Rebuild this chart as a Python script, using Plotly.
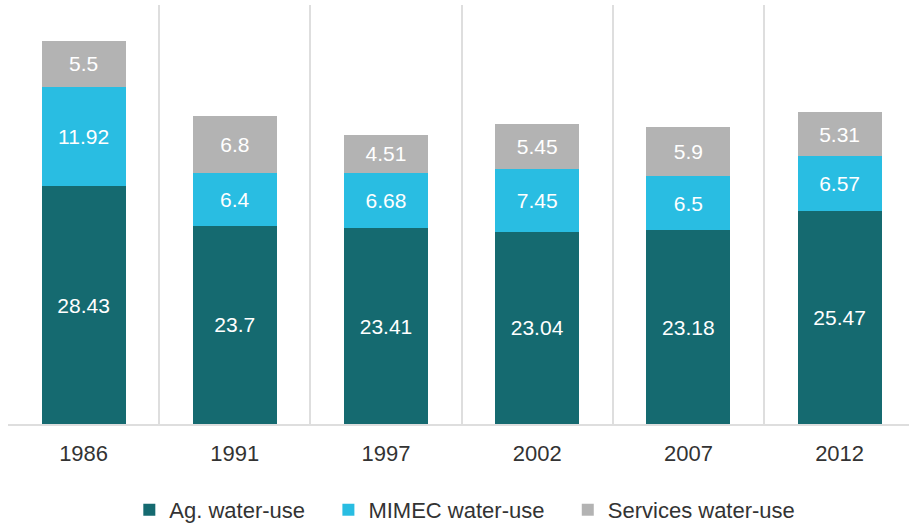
import plotly.graph_objects as go

years = ["1986", "1991", "1997", "2002", "2007", "2012"]
ag_use = [28.43, 23.7, 23.41, 23.04, 23.18, 25.47]
mimec_use = [11.92, 6.4, 6.68, 7.45, 6.5, 6.57]
services_use = [5.5, 6.8, 4.51, 5.45, 5.9, 5.31]

series = [
    ("Ag. water-use", ag_use, "#156a70"),
    ("MIMEC water-use", mimec_use, "#29bde2"),
    ("Services water-use", services_use, "#b3b3b3"),
]

FONT = "Liberation Sans, Arial, Helvetica, sans-serif"
PAD = "\u00a0\u00a0\u00a0"  # extra room after each legend entry

fig = go.Figure()
for name, vals, color in series:
    fig.add_trace(go.Bar(
        x=years,
        y=vals,
        name=name + PAD,
        marker=dict(color=color, line=dict(width=0)),
        width=0.556,
        text=[f"{v:g}" for v in vals],
        textposition="inside",
        insidetextanchor="middle",
        textfont=dict(color="white", size=21, family=FONT),
        constraintext="none",
        hoverinfo="skip",
    ))

fig.update_layout(
    barmode="stack",
    width=909,
    height=523,
    margin=dict(l=8, r=0, t=5, b=99, autoexpand=False),
    paper_bgcolor="white",
    plot_bgcolor="white",
    font=dict(family=FONT, color="#333333", size=22),
    showlegend=True,
    legend=dict(
        orientation="h",
        x=0.517,
        xanchor="center",
        yref="container",
        y=0.025,
        yanchor="middle",
        font=dict(size=22, color="#333333"),
        traceorder="normal",
        itemwidth=30,
    ),
    xaxis=dict(
        type="category",
        range=[-0.5, 5.459],
        tickson="boundaries",
        showgrid=True,
        gridcolor="#dedede",
        gridwidth=2,
        showline=True,
        linecolor="#dedede",
        linewidth=2,
        ticks="",
        ticklabelstandoff=9,
        tickfont=dict(size=22, color="#333333"),
        automargin=False,
    ),
    yaxis=dict(
        range=[0, 50.15],
        showgrid=False,
        zeroline=False,
        showticklabels=False,
        showline=False,
        automargin=False,
    ),
)

fig.write_html("out.html")
